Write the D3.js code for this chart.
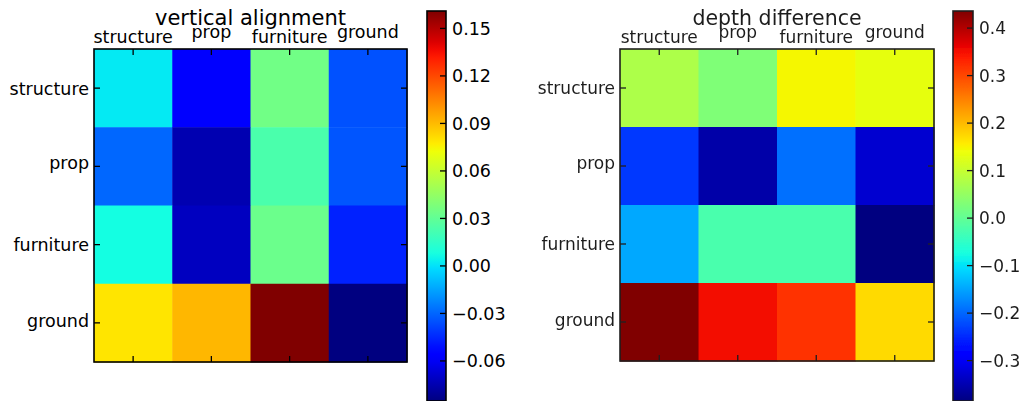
<!DOCTYPE html>
<html>
<head>
<meta charset="utf-8">
<script src="https://cdn.jsdelivr.net/npm/d3@7"></script>
<style>
    body { margin: 0; background: #fff; }
    svg { display: block; font-family: "DejaVu Sans", sans-serif; }
</style>
</head>
<body>
<div id="chart"></div>
<script>

// categories shared by both matrices (rows and columns)
var categories = ["structure", "prop", "furniture", "ground"];

// vertical alignment matrix, row by row
var alignValues = [
    [ 0.002, -0.055,  0.0346, -0.035],
    [-0.0296, -0.0747, 0.0232, -0.034],
    [ 0.007, -0.0715,  0.033, -0.0466],
    [ 0.079,  0.091,   0.161, -0.0853]
];
var alignTicks = [-0.06, -0.03, 0.00, 0.03, 0.06, 0.09, 0.12, 0.15];

// depth difference matrix, row by row
var depthValues = [
    [ 0.075,  0.0296,  0.147,  0.132],
    [-0.237, -0.356,  -0.192, -0.328],
    [-0.147, -0.024,  -0.024, -0.385],
    [ 0.436,  0.354,   0.32,   0.173]
];
var depthTicks = [-0.3, -0.2, -0.1, 0.0, 0.1, 0.2, 0.3, 0.4];

// matplotlib "jet" segment data
var jetSegments = {
    r: [[0, 0], [0.35, 0], [0.66, 1], [0.89, 1], [1, 0.5]],
    g: [[0, 0], [0.125, 0], [0.375, 1], [0.64, 1], [0.91, 0], [1, 0]],
    b: [[0, 0.5], [0.11, 1], [0.34, 1], [0.65, 0], [1, 0]]
};

function jet(t) {
    t = Math.max(0, Math.min(1, t));
    function channel(seg) {
        for (var i = 1; i < seg.length; i++) {
            if (t <= seg[i][0]) {
                var a = seg[i - 1], b = seg[i];
                return a[1] + (b[1] - a[1]) * (t - a[0]) / (b[0] - a[0]);
            }
        }
        return seg[seg.length - 1][1];
    }
    return d3.rgb(channel(jetSegments.r) * 255, channel(jetSegments.g) * 255, channel(jetSegments.b) * 255).formatHex();
}

var svg = d3.select("#chart").append("svg")
    .attr("width", 1021)
    .attr("height", 401);

svg.append("defs").append("filter")
    .attr("id", "soft")
    .append("feGaussianBlur")
    .attr("stdDeviation", 0.45);

/**
 * One heatmap panel with its colorbar
 */
function Heatmap(opts) {
    var self = this;
    self.opts = opts;
    self.g = svg.append("g");
    if (opts.blur) self.g.attr("filter", "url(#soft)");
    self.update();
}

Heatmap.prototype.update = function () {
    var self = this;
    var o = self.opts;
    var values = o.values;

    var flat = [];
    values.forEach(function (row, r) {
        row.forEach(function (v, c) { flat.push({row: r, col: c, value: v}); });
    });

    var extent = d3.extent(flat, function (d) { return d.value; });
    var colorScale = d3.scaleSequential(jet).domain(extent);

    var xScale = d3.scaleBand().domain(d3.range(categories.length)).range([o.left, o.right]);
    var yScale = d3.scaleBand().domain(d3.range(categories.length)).range([o.top, o.bottom]);

    // cells
    self.g.selectAll("rect.cell")
        .data(flat)
        .enter()
        .append("rect")
        .attr("class", "cell")
        .attr("x", function (d) { return xScale(d.col); })
        .attr("y", function (d) { return yScale(d.row); })
        .attr("width", xScale.bandwidth() + 0.5)
        .attr("height", yScale.bandwidth() + 0.5)
        .attr("fill", function (d) { return colorScale(d.value); });

    // inward ticks on all four sides
    var tickLen = 6;
    var ticks = self.g.append("g").attr("stroke", o.ink).attr("stroke-width", 1.3);
    categories.forEach(function (c, i) {
        var cx = xScale(i) + xScale.bandwidth() / 2;
        var cy = yScale(i) + yScale.bandwidth() / 2;
        ticks.append("line").attr("x1", cx).attr("x2", cx).attr("y1", o.top).attr("y2", o.top + tickLen);
        ticks.append("line").attr("x1", cx).attr("x2", cx).attr("y1", o.bottom).attr("y2", o.bottom - tickLen);
        ticks.append("line").attr("y1", cy).attr("y2", cy).attr("x1", o.left).attr("x2", o.left + tickLen);
        ticks.append("line").attr("y1", cy).attr("y2", cy).attr("x1", o.right).attr("x2", o.right - tickLen);
    });

    self.g.append("rect")
        .attr("x", o.left).attr("y", o.top)
        .attr("width", o.right - o.left).attr("height", o.bottom - o.top)
        .attr("fill", "none").attr("stroke", o.ink).attr("stroke-width", 1.6);

    // label metrics (bbox-aligned like matplotlib)
    var fs = o.labelSize;
    function hasDesc(s) { return /[gpqyj]/.test(s); }
    function hasAsc(s) { return /[bdfhklt]/.test(s); }

    // column labels on top (bottom of text box sits above the frame)
    self.g.selectAll("text.col")
        .data(categories)
        .enter()
        .append("text")
        .attr("class", "col")
        .attr("x", function (d, i) { return xScale(i) + xScale.bandwidth() / 2; })
        .attr("y", function (d) { return o.top - 6.5 - (hasDesc(d) ? 0.236 * fs : 0); })
        .attr("text-anchor", "middle")
        .attr("font-size", fs)
        .attr("fill", o.ink)
        .text(function (d) { return d; });

    // row labels, vertically centred on rows
    self.g.selectAll("text.row")
        .data(categories)
        .enter()
        .append("text")
        .attr("class", "row")
        .attr("x", o.left - 5)
        .attr("y", function (d, i) {
            var asc = hasAsc(d) ? 0.73 * fs : 0.547 * fs;
            var desc = hasDesc(d) ? 0.236 * fs : 0;
            return yScale(i) + yScale.bandwidth() / 2 + (asc - desc) / 2;
        })
        .attr("text-anchor", "end")
        .attr("font-size", fs)
        .attr("fill", o.ink)
        .text(function (d) { return d; });

    // title
    self.g.append("text")
        .attr("x", (o.left + o.right) / 2)
        .attr("y", 24.5)
        .attr("text-anchor", "middle")
        .attr("font-size", o.titleSize)
        .attr("fill", o.ink)
        .text(o.title);

    // colorbar
    var cbScale = d3.scaleLinear().domain(extent).range([401, 11]);
    var grad = svg.select("defs").append("linearGradient")
        .attr("id", o.id + "-grad")
        .attr("x1", 0).attr("y1", 1).attr("x2", 0).attr("y2", 0);
    d3.range(0, 1.0001, 0.02).forEach(function (t) {
        grad.append("stop").attr("offset", t).attr("stop-color", jet(t));
    });

    self.g.append("rect")
        .attr("x", o.cbLeft).attr("y", cbScale(extent[1]))
        .attr("width", o.cbWidth).attr("height", cbScale(extent[0]) - cbScale(extent[1]))
        .attr("fill", "url(#" + o.id + "-grad)")
        .attr("stroke", o.ink).attr("stroke-width", 1.6);

    var cbTicks = self.g.append("g");
    o.ticks.forEach(function (t) {
        var y = cbScale(t);
        cbTicks.append("line")
            .attr("x1", o.cbLeft + o.cbWidth).attr("x2", o.cbLeft + o.cbWidth - 6)
            .attr("y1", y).attr("y2", y)
            .attr("stroke", o.ink).attr("stroke-width", 1.3);
        cbTicks.append("text")
            .attr("x", o.cbLeft + o.cbWidth + 6)
            .attr("y", y + 0.365 * fs)
            .attr("font-size", fs)
            .attr("fill", o.ink)
            .text(d3.format(o.tickFormat)(t).replace("-", "\u2212"));
    });
};

new Heatmap({
    id: "align", title: "vertical alignment", values: alignValues, ticks: alignTicks,
    left: 94, right: 407, top: 49, bottom: 362,
    cbLeft: 427, cbWidth: 19, labelSize: 17.5, titleSize: 21, tickFormat: ".2f", ink: "#000"
});

new Heatmap({
    id: "depth", title: "depth difference", values: depthValues, ticks: depthTicks,
    left: 620, right: 934, top: 49, bottom: 361,
    cbLeft: 953, cbWidth: 20, labelSize: 17, titleSize: 20.5, tickFormat: ".1f", ink: "#1e1e1e", blur: true
});

</script>
</body>
</html>
